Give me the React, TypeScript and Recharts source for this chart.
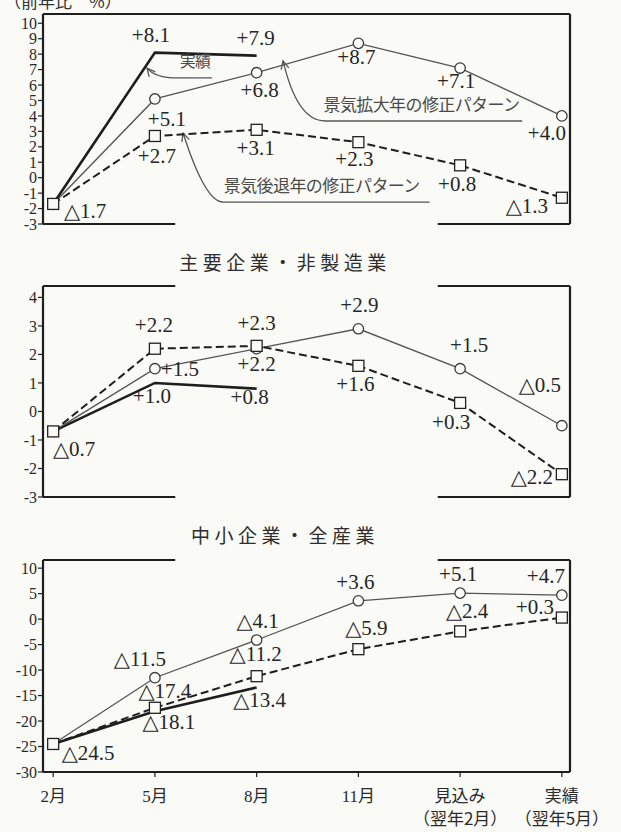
import React from "react";
import {
  LineChart,
  Line,
  XAxis,
  YAxis,
  LabelList,
  ReferenceLine,
  ReferenceDot,
} from "recharts";

// categories (x positions 0..5)
const CATS = ["2月", "5月", "8月", "11月", "見込み", "実績"];
const CAT_SUB = ["", "", "", "", "（翌年2月）", "（翌年5月）"];

// 主要企業・製造業
const MFG_ACTUAL = [-1.7, 8.1, 7.9];
const MFG_EXPAND = [-1.7, 5.1, 6.8, 8.7, 7.1, 4.0];
const MFG_RECESS = [-1.7, 2.7, 3.1, 2.3, 0.8, -1.3];
// 主要企業・非製造業
const NONMFG_ACTUAL = [-0.7, 1.0, 0.8];
const NONMFG_EXPAND = [-0.7, 1.5, 2.2, 2.9, 1.5, -0.5];
const NONMFG_RECESS = [-0.7, 2.2, 2.3, 1.6, 0.3, -2.2];
// 中小企業・全産業
const SME_ACTUAL = [-24.5, -18.1, -13.4];
const SME_EXPAND = [-24.5, -11.5, -4.1, 3.6, 5.1, 4.7];
const SME_RECESS = [-24.5, -17.4, -11.2, -5.9, -2.4, 0.3];

const MFG_TICKS = [-3, -2, -1, 0, 1, 2, 3, 4, 5, 6, 7, 8, 9, 10];
const NONMFG_TICKS = [-3, -2, -1, 0, 1, 2, 3, 4];
const SME_TICKS = [-30, -25, -20, -15, -10, -5, 0, 5, 10];

const X_MIN = -0.1;
const X_MAX = 5.08;
const SPLIT_L = 1.2;
const SPLIT_R = 3.78;

const BG = "#fafaf7";
const INK = "#1e1e1e";
const SERIF = "'Liberation Serif', 'Times New Roman', 'DejaVu Serif', serif";
const GOTHIC = "'Noto Sans CJK JP', sans-serif";

type Off = [number, number] | null;

// label offsets (text centre relative to point), per panel / series
const MFG_OFF: Record<string, Off[]> = {
  actual: [[32, 7], [-4, -18], [-1, -18]],
  expand: [null, [12, 20], [3, 17], [-2, 14], [-4, 13], [-15, 17]],
  recess: [null, [2, 20], [-1, 18], [-4, 17], [-3, 19], [-35, 8]],
};
const NONMFG_OFF: Record<string, Off[]> = {
  actual: [[21, 18], [-3, 13], [-7, 8]],
  expand: [null, [25, 0], [0, 15], [1, -24], [9, -24], [-22, -41]],
  recess: [null, [-1, -24], [0, -23], [-3, 18], [-9, 19], [-30, 3]],
};
const SME_OFF: Record<string, Off[]> = {
  actual: [[35, 9], [14, 11], [3, 13]],
  expand: [null, [-15, -19], [1, -19], [-3, -19], [-2, -19], [-16, -19]],
  recess: [null, [10, -17], [-1, -22], [8, -21], [7, -20], [-27, -11]],
};

const fmt = (v: number) =>
  v > 0 ? `+${v.toFixed(1)}` : v < 0 ? `△${Math.abs(v).toFixed(1)}` : "0.0";

const buildRows = (actual: number[], expand: number[], recess: number[]) =>
  CATS.map((c, i) => ({
    i,
    cat: c,
    actual: i < actual.length ? actual[i] : null,
    expand: expand[i],
    recess: recess[i],
  }));

const makeLabel = (offs: Off[]) => (p: any) => {
  const o = offs[p.index];
  if (!o || p.value == null) return null;
  return (
    <text
      x={p.x + o[0]}
      y={p.y + o[1]}
      textAnchor="middle"
      dominantBaseline="central"
      fontFamily={SERIF}
      fontSize={21}
      fill="#262626"
    >
      {fmt(p.value)}
    </text>
  );
};

const circleDot = (p: any) =>
  p.index === 0 || p.value == null ? (
    <g key={`c${p.index}`} />
  ) : (
    <circle key={`c${p.index}`} cx={p.cx} cy={p.cy} r={5.2} fill={BG} stroke="#3a3a3a" strokeWidth={1.3} />
  );

const squareDot = (p: any) => (
  <rect
    key={`s${p.index}`}
    x={p.cx - 5.5}
    y={p.cy - 5.5}
    width={11}
    height={11}
    fill={BG}
    stroke="#222"
    strokeWidth={1.3}
  />
);

// callout line: curve from tip towards the horizontal run, arrowhead at tip
const callout = (cx: number, ex: number) => (p: any) => {
  const { x1, y1, x2, y2 } = p;
  const c = { x: x1 + cx, y: y2 };
  const e = { x: x1 + ex, y: y2 };
  const len = Math.hypot(c.x - x1, c.y - y1) || 1;
  const ux = (c.x - x1) / len;
  const uy = (c.y - y1) / len;
  const rot = (a: number) => ({
    x: x1 + 9 * (ux * Math.cos(a) - uy * Math.sin(a)),
    y: y1 + 9 * (ux * Math.sin(a) + uy * Math.cos(a)),
  });
  const w1 = rot(0.45);
  const w2 = rot(-0.45);
  return (
    <g>
      <path
        d={`M${x1},${y1} Q${c.x},${c.y} ${e.x},${e.y} L${x2},${y2}`}
        fill="none"
        stroke="#555"
        strokeWidth={1.3}
      />
      <path
        d={`M${w1.x},${w1.y} L${x1},${y1} L${w2.x},${w2.y}`}
        fill="none"
        stroke="#555"
        strokeWidth={1.3}
      />
    </g>
  );
};

const noteText = (text: string, size: number) => (p: any) => (
  <text
    x={p.cx}
    y={p.cy}
    textAnchor="middle"
    dominantBaseline="central"
    fontFamily={GOTHIC}
    fontSize={size}
    letterSpacing={-0.6}
    fill="#4a4a4a"
  >
    {text}
  </text>
);

const frameLines = (yMin: number, yMax: number, top: "full" | "split" | "none", bottom: "full" | "split" | "none") => {
  const st = { stroke: INK, strokeWidth: 2.2 };
  const out: any[] = [
    <ReferenceLine key="r" segment={[{ x: X_MAX, y: yMin }, { x: X_MAX, y: yMax }]} {...st} />,
  ];
  const edge = (y: number, mode: string, k: string) => {
    if (mode === "full") {
      out.push(<ReferenceLine key={k} segment={[{ x: X_MIN, y }, { x: X_MAX, y }]} {...st} />);
    } else if (mode === "split") {
      out.push(<ReferenceLine key={k + "a"} segment={[{ x: X_MIN, y }, { x: SPLIT_L, y }]} {...st} />);
      out.push(<ReferenceLine key={k + "b"} segment={[{ x: SPLIT_R, y }, { x: X_MAX, y }]} {...st} />);
    }
  };
  edge(yMax, top, "t");
  edge(yMin, bottom, "b");
  return out;
};

const CatTick = (p: any) => {
  const i = p.payload.value;
  return (
    <g>
      <text x={p.x} y={p.y + 17} textAnchor="middle" dominantBaseline="central" fontFamily={`${SERIF}, ${GOTHIC}`} fontSize={17} fill="#2a2a2a">
        {CATS[i]}
      </text>
      {CAT_SUB[i] && (
        <text x={p.x} y={p.y + 38} textAnchor="middle" dominantBaseline="central" fontFamily={GOTHIC} fontSize={17} fill="#2a2a2a">
          {CAT_SUB[i]}
        </text>
      )}
    </g>
  );
};

function series(offs: Record<string, Off[]>) {
  return [
    <Line key="a" dataKey="actual" stroke={INK} strokeWidth={2.6} dot={false} isAnimationActive={false}>
      <LabelList dataKey="actual" content={makeLabel(offs.actual)} />
    </Line>,
    <Line key="e" dataKey="expand" stroke="#555" strokeWidth={1.3} dot={circleDot} isAnimationActive={false}>
      <LabelList dataKey="expand" content={makeLabel(offs.expand)} />
    </Line>,
    <Line key="r" dataKey="recess" stroke={INK} strokeWidth={2} strokeDasharray="8 4" dot={squareDot} isAnimationActive={false}>
      <LabelList dataKey="recess" content={makeLabel(offs.recess)} />
    </Line>,
  ];
}

const yAxisProps = (domain: number[], ticks: number[]) => ({
  type: "number" as const,
  domain,
  ticks,
  width: 38,
  interval: 0 as const,
  allowDataOverflow: true,
  axisLine: { stroke: INK, strokeWidth: 2.2 },
  tickLine: { stroke: INK, strokeWidth: 1.2 },
  tickSize: 5,
  tickMargin: 1,
  tick: { fontFamily: SERIF, fontSize: 16, fill: "#2a2a2a" },
});

const titleStyle: React.CSSProperties = {
  position: "absolute",
  left: 0,
  width: 570,
  textAlign: "center",
  fontFamily: GOTHIC,
  fontSize: 19,
  letterSpacing: 4.5,
  color: "#2e2e2e",
};

export default function App() {
  const mfg = buildRows(MFG_ACTUAL, MFG_EXPAND, MFG_RECESS);
  const nonMfg = buildRows(NONMFG_ACTUAL, NONMFG_EXPAND, NONMFG_RECESS);
  const sme = buildRows(SME_ACTUAL, SME_EXPAND, SME_RECESS);

  return (
    <div style={{ position: "absolute", left: 0, top: 0, width: 621, height: 832, background: BG, overflow: "hidden" }}>
      <div style={{ position: "absolute", left: 4, top: -12, fontFamily: GOTHIC, fontSize: 17, color: "#333" }}>
        （前年比　%）
      </div>

      {/* 主要企業・製造業 */}
      <div style={{ position: "absolute", left: 0, top: 0 }}>
        <LineChart width={621} height={232} data={mfg} margin={{ top: 14, right: 51, bottom: 8, left: 5 }}>
          <XAxis type="number" dataKey="i" domain={[X_MIN, X_MAX]} hide />
          <YAxis {...yAxisProps([-3, 10.6], MFG_TICKS)} />
          {frameLines(-3, 10.6, "full", "split")}
          <ReferenceLine segment={[{ x: 0.923, y: 7.1 }, { x: 1.56, y: 6.46 }]} shape={callout(8, 30)} />
          <ReferenceLine segment={[{ x: 2.26, y: 7.56 }, { x: 4.61, y: 3.67 }]} shape={callout(14, 42)} />
          <ReferenceLine segment={[{ x: 1.277, y: 2.89 }, { x: 3.7, y: -1.58 }]} shape={callout(22, 40)} />
          <ReferenceDot x={1.395} y={7.62} r={0} shape={noteText("実績", 16)} />
          <ReferenceDot x={3.62} y={4.78} r={0} shape={noteText("景気拡大年の修正パターン", 17)} />
          <ReferenceDot x={2.64} y={-0.45} r={0} shape={noteText("景気後退年の修正パターン", 17)} />
          {series(MFG_OFF)}
        </LineChart>
      </div>

      <div style={{ ...titleStyle, top: 248 }}>主要企業・非製造業</div>
      <div style={{ position: "absolute", left: 0, top: 240 }}>
        <LineChart width={621} height={265} data={nonMfg} margin={{ top: 46, right: 51, bottom: 8, left: 5 }}>
          <XAxis type="number" dataKey="i" domain={[X_MIN, X_MAX]} hide />
          <YAxis {...yAxisProps([-3, 4.4], NONMFG_TICKS)} />
          {frameLines(-3, 4.4, "split", "split")}
          {series(NONMFG_OFF)}
        </LineChart>
      </div>

      <div style={{ ...titleStyle, top: 521 }}>中小企業・全産業</div>
      <div style={{ position: "absolute", left: 0, top: 510 }}>
        <LineChart width={621} height={322} data={sme} margin={{ top: 50, right: 51, bottom: 0, left: 5 }}>
          <XAxis
            type="number"
            dataKey="i"
            domain={[X_MIN, X_MAX]}
            ticks={[0, 1, 2, 3, 4, 5]}
            interval={0}
            height={60}
            axisLine={{ stroke: INK, strokeWidth: 2.2 }}
            tickLine={{ stroke: INK, strokeWidth: 1.2 }}
            tickSize={5}
            tickMargin={2}
            tick={<CatTick />}
          />
          <YAxis {...yAxisProps([-30, 11.6], SME_TICKS)} />
          {frameLines(-30, 11.6, "split", "none")}
          {series(SME_OFF)}
        </LineChart>
      </div>
    </div>
  );
}
